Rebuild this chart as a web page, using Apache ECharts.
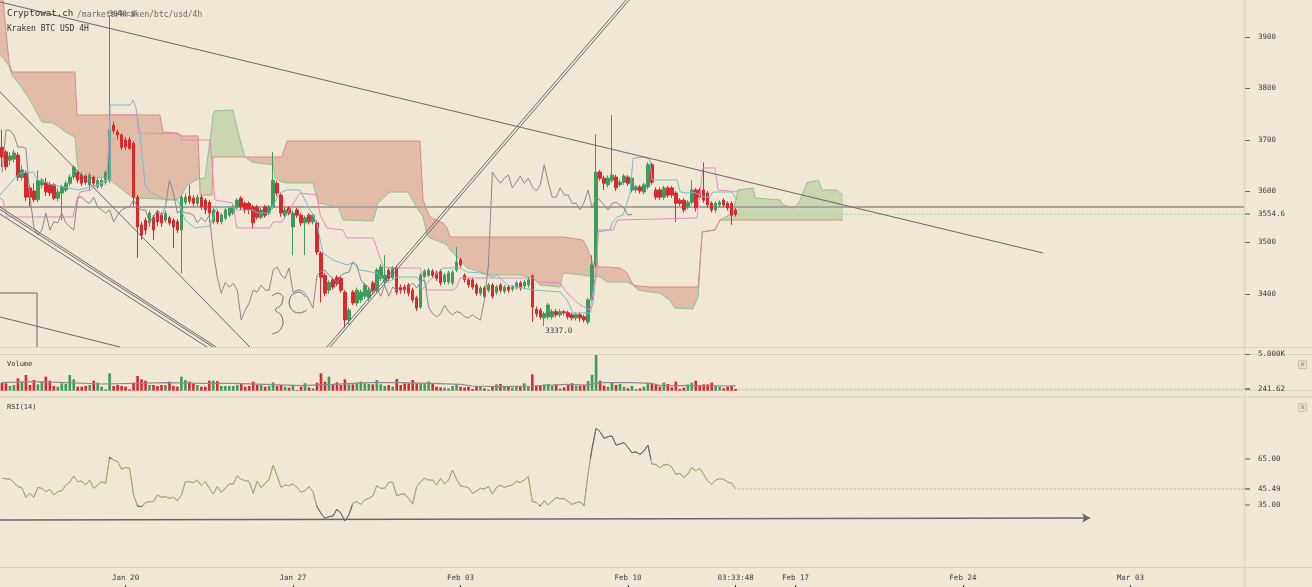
<!DOCTYPE html>
<html><head><meta charset="utf-8">
<script src="https://cdn.jsdelivr.net/npm/echarts@6/dist/echarts.min.js"></script>
<style>html,body{margin:0;padding:0;background:#f0e7d4;}#c{width:1312px;height:587px;}</style>
</head><body><div id="c"></div>
<script>
// ---------- DATA ----------
// 4H candles, Kraken BTC/USD, first candle 2019-01-14 20:00 UTC. [open, close, low, high]
const candles = [
[3685,3666,3647,3719],[3676,3647,3640,3680],[3660,3668,3650,3675],[3662,3674,3655,3680],[3670,3627,3620,3675],
[3626,3641,3620,3650],[3636,3588,3580,3640],[3606,3588,3570,3612],[3600,3583,3578,3615],[3583,3621,3578,3640],
[3612,3621,3605,3625],[3617,3598,3590,3625],[3612,3596,3590,3618],[3612,3586,3582,3615],[3586,3598,3580,3605],
[3596,3608,3543,3612],[3602,3615,3598,3620],[3615,3627,3610,3632],[3627,3646,3622,3650],[3636,3621,3615,3640],
[3631,3615,3610,3636],[3629,3617,3612,3632],[3612,3631,3600,3636],[3627,3615,3610,3630],[3608,3621,3604,3625],
[3610,3621,3605,3626],[3617,3636,3612,3640],[3621,3719,3615,3939],[3728,3718,3712,3735],[3715,3709,3700,3720],
[3709,3685,3680,3712],[3699,3686,3680,3705],[3700,3683,3680,3705],[3693,3588,3570,3697],[3588,3530,3470,3592],
[3534,3514,3505,3540],[3543,3524,3515,3548],[3538,3557,3530,3562],[3549,3524,3505,3553],[3557,3540,3532,3562],
[3553,3538,3530,3558],[3543,3557,3538,3562],[3548,3538,3533,3552],[3543,3530,3489,3547],[3540,3524,3518,3545],
[3524,3588,3440,3592],[3578,3588,3573,3595],[3590,3580,3575,3612],[3586,3576,3570,3592],[3576,3588,3570,3593],
[3588,3569,3563,3593],[3582,3563,3555,3586],[3578,3557,3540,3582],[3540,3563,3535,3567],[3559,3540,3535,3563],
[3540,3553,3535,3557],[3547,3563,3543,3567],[3553,3567,3549,3570],[3557,3569,3553,3573],[3569,3582,3565,3586],
[3586,3569,3563,3590],[3576,3563,3557,3580],[3576,3563,3555,3580],[3569,3538,3527,3573],[3569,3549,3545,3573],
[3549,3563,3545,3567],[3569,3553,3548,3573],[3557,3569,3553,3573],[3569,3621,3565,3676],[3615,3596,3590,3620],
[3592,3557,3550,3596],[3553,3563,3548,3567],[3567,3557,3553,3570],[3530,3557,3475,3562],[3563,3553,3548,3567],
[3553,3538,3532,3557],[3538,3548,3475,3552],[3553,3540,3535,3557],[3540,3553,3535,3557],[3538,3481,3475,3543],
[3479,3432,3383,3483],[3436,3401,3395,3440],[3407,3422,3400,3426],[3427,3413,3408,3432],[3432,3420,3415,3436],
[3430,3407,3402,3434],[3403,3349,3334,3407],[3349,3368,3340,3372],[3403,3382,3378,3407],[3382,3407,3376,3412],
[3388,3403,3382,3408],[3395,3417,3390,3421],[3392,3407,3386,3412],[3421,3407,3400,3425],[3407,3446,3402,3450],
[3430,3452,3425,3457],[3423,3436,3418,3475],[3446,3430,3425,3450],[3432,3450,3427,3454],[3450,3403,3398,3455],
[3413,3407,3400,3418],[3413,3407,3400,3418],[3417,3401,3395,3421],[3407,3388,3383,3412],[3392,3372,3366,3396],
[3374,3436,3370,3440],[3434,3444,3430,3448],[3436,3446,3432,3450],[3444,3436,3430,3448],[3440,3430,3425,3445],
[3444,3421,3416,3448],[3423,3436,3418,3440],[3423,3440,3418,3445],[3421,3442,3416,3446],[3446,3462,3442,3491],
[3466,3456,3451,3470],[3436,3427,3422,3440],[3427,3417,3412,3431],[3427,3413,3408,3431],[3417,3401,3396,3421],
[3401,3411,3396,3415],[3411,3395,3390,3415],[3407,3417,3402,3421],[3417,3395,3390,3421],[3403,3413,3398,3417],
[3417,3407,3402,3421],[3405,3413,3400,3417],[3413,3407,3402,3417],[3409,3413,3404,3417],[3413,3421,3408,3425],
[3421,3411,3406,3425],[3415,3423,3410,3427],[3417,3427,3412,3432],[3434,3374,3345,3438],[3370,3361,3355,3375],
[3368,3355,3350,3372],[3353,3361,3337,3365],[3355,3378,3350,3382],[3355,3365,3350,3370],[3365,3359,3354,3370],
[3359,3365,3354,3370],[3365,3363,3358,3368],[3363,3355,3350,3367],[3359,3353,3348,3363],[3353,3359,3348,3363],
[3359,3353,3345,3363],[3355,3349,3344,3359],[3345,3388,3340,3392],[3388,3456,3383,3475],[3456,3637,3450,3710],
[3637,3625,3620,3641],[3625,3615,3602,3630],[3612,3625,3607,3630],[3621,3631,3616,3748],[3627,3606,3600,3632],
[3612,3617,3608,3622],[3617,3629,3612,3633],[3627,3615,3610,3631],[3602,3625,3597,3630],[3602,3608,3597,3612],
[3608,3600,3595,3612],[3598,3612,3593,3616],[3608,3651,3603,3656],[3651,3617,3612,3655],[3602,3588,3583,3607],
[3602,3588,3583,3607],[3588,3606,3583,3610],[3606,3592,3587,3610],[3606,3592,3587,3610],[3596,3576,3540,3600],
[3582,3576,3571,3586],[3582,3563,3558,3586],[3569,3578,3565,3582],[3578,3602,3573,3621],[3602,3567,3560,3606],
[3602,3588,3583,3606],[3602,3582,3577,3655],[3596,3573,3568,3600],[3576,3563,3558,3580],[3563,3576,3558,3580],
[3573,3578,3568,3582],[3582,3573,3568,3586],[3576,3567,3562,3580],[3576,3553,3534,3580],[3563,3554.6,3550,3567]
];
const volumes = [
1091,1000,637,773,1682,1228,2137,773,1455,864,
1228,1910,1364,637,546,1000,910,2137,1546,546,
546,637,773,1364,1091,546,182,2364,637,773,
637,546,182,1091,2001,1546,1364,773,773,637,
773,773,1228,637,546,1910,1455,1228,1000,773,
546,546,1364,1364,1319,637,637,637,637,773,
1000,546,637,1228,773,773,546,637,1137,637,
773,546,409,637,91,546,1000,455,318,1091,
2364,1228,1910,773,1137,773,1546,864,864,1091,
1228,1000,910,864,1455,864,637,773,546,1592,
773,1000,1000,1455,1000,1000,1000,1228,1000,546,
455,409,318,637,910,546,455,546,227,637,
637,318,182,546,864,910,637,546,409,637,
546,1000,546,2228,637,682,864,910,637,864,
318,455,864,1000,682,682,773,1319,2137,4865,
1364,682,546,1137,773,910,546,318,637,227,
318,546,1091,1000,773,546,1091,910,455,1228,
227,409,864,1091,1364,637,864,864,1091,637,
546,318,546,682,241.62];
// volume moving average: [candle index, value]
const volumeMA = [[0,1091],[8,1228],[16,1091],[25,910],[33,1000],[41,1091],[50,1000],[58,1000],[66,864],[75,682],[83,864],[92,1091],[100,1091],[108,1000],[115,864],[118,637],[125,546],[133,637],[142,864],[147,773],[150,1091],[158,1091],[163,1000],[165,682],[175,682],[183,637],[184,682]];
const rsi = [
52.5,52.0,52.0,49.6,47.0,46.3,40.0,42.6,40.0,46.5,
45.9,43.7,45.2,41.5,43.7,44.3,48.0,49.8,53.9,50.2,
50.6,48.0,51.3,45.9,48.0,50.2,49.1,66.1,64.3,63.3,
58.3,59.6,58.9,41.5,34.3,33.9,36.5,37.2,37.2,41.5,
40.0,40.4,39.3,40.0,37.8,41.5,50.2,50.2,49.6,51.3,
47.6,50.2,45.9,42.2,47.0,43.3,45.9,48.7,48.7,53.9,
51.7,50.9,50.4,42.6,50.6,46.3,49.1,51.7,61.1,53.9,
46.5,48.0,47.6,48.7,46.3,43.3,44.3,47.0,43.7,33.9,
29.6,26.3,27.4,27.8,32.2,29.6,24.6,28.5,36.1,37.2,
35.4,38.3,39.3,40.9,47.6,45.9,45.9,49.8,49.8,41.1,
42.0,42.2,39.3,35.6,47.0,50.2,52.4,51.3,51.3,48.0,
52.4,48.7,51.3,57.8,51.7,47.4,47.0,46.3,42.6,44.0,
45.9,45.4,47.0,42.2,46.3,48.0,46.5,47.4,48.0,50.6,
49.6,51.3,53.5,37.2,36.7,34.3,37.8,35.0,37.6,39.8,
39.1,39.1,37.2,35.4,36.5,37.0,34.8,55.7,72.0,85.0,
82.8,78.5,79.6,80.0,74.1,74.8,75.7,72.6,69.1,69.6,
68.0,70.2,74.1,61.7,61.5,59.3,61.1,61.5,59.6,55.0,
55.7,53.0,55.2,59.3,57.2,58.9,55.0,50.6,48.5,51.3,
52.2,51.7,50.0,49.1,45.49];
// Ichimoku lines, vertices: [candle index, price]
const tenkan = [[-0.5,3592.2],[1.26,3607.8],[2.76,3621.4],[4.5,3635.0],[7.8,3637.0],[9.0,3621.4],[12.8,3611.7],[15.3,3607.8],[19.1,3602.0],[21.3,3605.8],[23.8,3611.7],[26.3,3621.4],[27.1,3621.4],[27.1,3767.4],[32.1,3767.4],[32.9,3777.1],[33.6,3761.6],[34.6,3712.9],[35.9,3611.7],[37.1,3598.0],[40.9,3582.5],[43.9,3582.5],[44.6,3572.7],[45.9,3543.5],[48.4,3528.0],[52.2,3531.9],[53.9,3568.8],[57.9,3568.8],[58.9,3563.0],[63.0,3563.0],[64.0,3557.2],[67.2,3557.2],[68.0,3572.7],[69.7,3596.1],[71.5,3602.0],[74.7,3602.0],[77.3,3563.0],[79.0,3537.7],[79.8,3504.6],[80.5,3479.3],[83.0,3465.7],[86.5,3455.9],[88.0,3459.8],[89.8,3446.2],[94.1,3440.4],[96.6,3420.9],[99.1,3432.6],[104.1,3432.6],[104.8,3422.8],[105.3,3407.3],[107.3,3426.7],[110.6,3450.1],[114.9,3450.1],[116.6,3442.3],[119.9,3440.4],[123.2,3432.6],[124.2,3436.5],[126.7,3417.0],[129.2,3413.1],[133.2,3407.3],[140.0,3403.4],[141.7,3387.8],[143.2,3362.5],[147.5,3362.5],[148.2,3382.0],[149.2,3450.1],[149.5,3520.2],[152.5,3524.1],[153.0,3537.7],[154.3,3549.4],[155.8,3553.3],[157.5,3596.1],[158.3,3664.2],[161.3,3666.2],[162.5,3660.3],[163.0,3621.4],[169.3,3621.4],[170.1,3598.0],[171.8,3596.1],[173.3,3598.0],[176.3,3588.3],[177.6,3588.3],[178.3,3598.0],[183.1,3598.0],[184.3,3582.5]];
const kijun = [[-0.5,3586.4],[0.25,3582.5],[1.26,3549.4],[17.8,3549.4],[18.8,3582.5],[19.6,3598.0],[22.1,3602.0],[26.3,3621.4],[27.1,3748.0],[33.9,3748.0],[34.1,3712.9],[44.6,3711.0],[45.1,3699.3],[52.2,3699.3],[53.4,3582.5],[57.9,3576.6],[58.9,3528.0],[67.2,3528.0],[68.0,3539.6],[70.2,3539.6],[74.7,3596.1],[79.0,3592.2],[79.8,3553.3],[81.5,3528.0],[85.5,3524.1],[86.5,3508.5],[93.1,3508.5],[95.6,3452.1],[99.1,3450.1],[104.8,3450.1],[105.6,3432.6],[106.6,3407.3],[113.1,3407.3],[114.1,3413.1],[114.9,3430.6],[133.2,3430.6],[134.2,3422.8],[140.0,3420.9],[141.7,3401.4],[145.0,3378.1],[147.5,3368.3],[149.2,3452.1],[149.5,3524.1],[153.3,3524.1],[154.3,3543.5],[174.3,3547.4],[175.8,3644.8],[178.8,3644.8],[179.6,3602.0],[184.6,3598.0]];
const cloudIdx = [-0.5,0.25,1.76,2.5,4.5,7.0,10.0,12.8,16.3,18.3,18.8,19.6,25.3,27.1,32.9,39.6,40.4,43.9,45.1,46.4,49.2,49.7,50.9,52.7,52.9,53.4,57.9,59.2,60.9,62.7,68.0,68.5,70.2,71.5,78.0,79.3,84.3,85.5,93.1,94.3,97.3,101.8,104.1,104.8,105.6,106.6,107.3,110.6,111.6,112.4,114.9,116.6,122.4,129.9,133.2,134.9,140.0,140.7,145.7,146.7,148.2,150.0,151.7,155.0,156.8,158.3,159.5,162.5,165.0,167.5,168.8,173.3,174.6,175.6,178.8,180.1,183.3,184.6,188.4,188.9,195.1,195.9,198.9,200.2,201.9,204.7,205.7,209.4,210.9];
const senkouA = [3864.7,3858.9,3843.3,3825.8,3806.3,3777.1,3734.3,3732.4,3712.9,3705.1,3660.3,3621.4,3627.2,3621.4,3586.4,3584.4,3584.4,3582.5,3592.2,3611.7,3623.3,3625.3,3625.3,3728.5,3748.0,3755.7,3757.7,3714.8,3666.2,3656.4,3650.6,3625.3,3617.5,3615.6,3615.6,3576.6,3568.8,3543.5,3541.6,3576.6,3598.0,3598.0,3566.9,3559.1,3549.4,3514.4,3508.5,3498.8,3494.9,3485.1,3465.7,3450.1,3436.5,3436.5,3430.6,3417.0,3413.1,3440.4,3436.5,3434.5,3434.5,3432.6,3422.8,3422.8,3422.8,3417.0,3407.3,3403.4,3401.4,3387.8,3372.2,3370.3,3393.6,3520.2,3524.1,3543.5,3557.2,3602.0,3605.8,3586.4,3582.5,3572.7,3566.9,3582.5,3615.6,3621.4,3602.0,3602.0,3592.2];
const senkouB = [4049.5,3971.8,3851.1,3831.6,3831.6,3831.6,3831.6,3831.6,3831.6,3831.6,
3748.0,3748.0,3748.0,3748.0,3748.0,3748.0,3714.8,3712.9,3707.1,3707.1,
3707.1,3592.2,3592.2,3592.2,3666.2,3666.2,3666.2,3666.2,3666.2,3666.2,
3666.2,3666.2,3666.2,3697.3,3697.3,3697.3,3697.3,3697.3,3697.3,3697.3,
3697.3,3697.3,3697.3,3697.3,3582.5,3563.0,3549.4,3537.7,3528.0,3510.4,
3510.4,3510.4,3510.4,3510.4,3510.4,3510.4,3510.4,3510.4,3504.6,3491.0,
3459.8,3452.1,3452.1,3450.1,3440.4,3417.0,3415.1,3413.1,3413.1,3413.1,
3413.1,3413.1,3413.1,3520.2,3524.1,3543.5,3543.5,3543.5,3543.5,3543.5,
3543.5,3543.5,3543.5,3543.5,3543.5,3543.5,3543.5,3543.5,3543.5];
const chikouShift = 26;
// drawn trend lines: [x1 index, price1, x2 index, price2]
const trendLines = [
[-0.5,3967.9,261.1,3479.3],
[81.5,3296.3,156.5,3971.8],[82.3,3296.3,157.3,3971.8],
[-0.5,3568.8,53.7,3296.3],[-0.5,3564.0,52.9,3296.3],[-0.5,3555.2,51.4,3296.3],
[-0.5,3792.7,62.2,3296.3],[-0.5,3354.7,29.6,3296.3],
[-0.5,3401.4,8.78,3401.4],[8.78,3401.4,8.78,3296.3]
];
// hand-drawn strokes on the chart: [candle index, price]
const drawings = [
[[67.7,3395.6],[69.2,3401.4],[70.5,3393.6],[70.0,3378.1],[68.5,3368.3],[70.0,3358.6],[70.5,3343.0],[69.5,3327.4],[67.7,3321.6]],
[[76.2,3393.6],[74.5,3403.4],[72.7,3397.5],[72.0,3382.0],[73.0,3366.4],[74.7,3362.5],[76.5,3368.3]]
];
const supportLevel = 3568.8;
const lastPrice = 3554.6, lastVolume = 241.62, lastRsi = 45.49;
const rsiTrend = [[-0.5,25.2],[272.9,26.5]];
const highMark = {idx:27, price:3939, text:'3940.0'};
const lowMark = {idx:136, price:3337, text:'3337.0'};
const priceTicks = [3400,3500,3600,3700,3800,3900];
const volumeTicks = [5000];
const rsiTicks = [65,35];
const xTickIndex = [31,73,115,157,184,199,241,283];
const xTickText = ['Jan 20','Jan 27','Feb 03','Feb 10','03:33:48','Feb 17','Feb 24','Mar 03'];

// ---------- BUILD ----------
const N = 312;
const startMs = Date.UTC(2019,0,14,20);
const categories = Array.from({length:N},(_,i)=>new Date(startMs+i*4*3600e3).toISOString().slice(0,16).replace('T',' '));
const labelMap = new Map(xTickIndex.map((v,i)=>[v,xTickText[i]]));
const FONT = 'DejaVu Sans Mono';
const UP = '#3d9b5c', DOWN = '#d7292e';
const TXT = '#3e3a47';
const END = N - 0.5;

const cloudRows = cloudIdx.map((x,i)=>[x, senkouA[i], senkouB[i]]);
const GREENF = 'rgba(120,180,100,0.33)', REDF = 'rgba(200,110,80,0.35)';
function cloudRegions(){
  const regions = []; let cur = {a:[], b:[], s:0};
  for (let i=0;i<cloudRows.length;i++){
    const [x,a,b] = cloudRows[i]; const d = a-b; const s = d>0?1:(d<0?-1:0);
    if (i>0 && s!==0 && cur.s!==0 && s!==cur.s){
      const [px,pa,pb] = cloudRows[i-1]; const pd = pa-pb;
      let c;
      if (pd===0) { c=[px,pa]; }
      else { const t = pd/(pd-d); c=[px+t*(x-px), pa+t*(a-pa)]; cur.a.push(c); cur.b.push(c); }
      regions.push(cur);
      cur = {a:[c], b:[c], s:s};
    }
    cur.a.push([x,a]); cur.b.push([x,b]);
    if (cur.s===0 && s!==0) cur.s = s;
  }
  regions.push(cur);
  return regions;
}
const regions = cloudRegions();
function renderCloud(params, api){
  return {type:'group', children: regions.map(r=>({type:'polygon', silent:true,
    shape:{points: r.a.concat(r.b.slice().reverse()).map(p=>api.coord(p))},
    style:{fill: r.s>0?GREENF:REDF}}))};
}

const closes = candles.map(c=>c[1]);
const chikou = closes.slice(chikouShift);
const volData = volumes.map((v,i)=>({value:v, itemStyle:{color: candles[i][1]>=candles[i][0]?UP:DOWN}}));

const series = [];
series.push({type:'custom', name:'cloud', xAxisIndex:1, yAxisIndex:0, renderItem:renderCloud, data:[cloudRows[0]], encode:{x:0,y:[1,2]}, clip:true, z:1, silent:true});
series.push({type:'line', xAxisIndex:1, yAxisIndex:0, data:cloudIdx.map((x,i)=>[x,senkouA[i]]), showSymbol:false, lineStyle:{color:'#8dc48d',width:1}, z:2, silent:true});
series.push({type:'line', xAxisIndex:1, yAxisIndex:0, data:cloudIdx.map((x,i)=>[x,senkouB[i]]), showSymbol:false, lineStyle:{color:'#dc8b7b',width:1}, z:2, silent:true});
series.push({type:'line', xAxisIndex:1, yAxisIndex:0, data:[[-0.5,supportLevel],[END,supportLevel]], showSymbol:false, lineStyle:{color:'#aaa39d',width:2}, z:2, silent:true});
series.push({type:'line', xAxisIndex:1, yAxisIndex:0, data:[[184.5,lastPrice],[END,lastPrice]], showSymbol:false, lineStyle:{color:'#a9cfa6',width:1,type:[2,2]}, z:2, silent:true});
series.push({type:'candlestick', xAxisIndex:0, yAxisIndex:0, data:candles, barWidth:3,
  itemStyle:{color:UP, color0:DOWN, borderColor:UP, borderColor0:DOWN, borderWidth:1}, z:4, silent:true,
  markPoint:{symbol:'circle', symbolSize:0, silent:true, animation:false,
    label:{show:true, position:'right', distance:1, fontFamily:FONT, fontSize:7.5, color:TXT},
    data:[{coord:[lowMark.idx,lowMark.price], value:lowMark.text, label:{formatter:lowMark.text, offset:[0,5]}},
          {coord:[highMark.idx,highMark.price], value:highMark.text, label:{formatter:highMark.text, offset:[-2,-3]}}]}});
series.push({type:'line', xAxisIndex:1, yAxisIndex:0, data:tenkan, showSymbol:false, lineStyle:{color:'#76bccd',width:1}, z:5, silent:true});
series.push({type:'line', xAxisIndex:1, yAxisIndex:0, data:kijun, showSymbol:false, lineStyle:{color:'#e389c5',width:1}, z:5, silent:true});
series.push({type:'line', xAxisIndex:0, yAxisIndex:0, data:chikou, showSymbol:false, lineStyle:{color:'#8b8592',width:1}, z:5, silent:true});
trendLines.forEach(t=>series.push({type:'line', xAxisIndex:1, yAxisIndex:0, data:[[t[0],t[1]],[t[2],t[3]]], showSymbol:false, lineStyle:{color:'#6a6472',width:1}, z:6, silent:true}));
drawings.forEach(d=>series.push({type:'line', xAxisIndex:1, yAxisIndex:0, data:d, showSymbol:false, smooth:0.3, lineStyle:{color:'#6f6976',width:1}, z:6, silent:true}));
// volume
series.push({type:'bar', xAxisIndex:2, yAxisIndex:1, data:volData, barWidth:2.6, z:3, silent:true});
series.push({type:'line', xAxisIndex:3, yAxisIndex:1, data:volumeMA, showSymbol:false, lineStyle:{color:'#8f8a92',width:1.2}, z:4, silent:true});
series.push({type:'line', xAxisIndex:3, yAxisIndex:1, data:[[184.5,lastVolume],[END,lastVolume]], showSymbol:false, lineStyle:{color:'#a6cba3',width:1,type:[2,2]}, z:4, silent:true});
// rsi
const rsiIndex = series.length;
series.push({type:'line', xAxisIndex:4, yAxisIndex:2, data:rsi, showSymbol:false, lineStyle:{width:1}, z:4, silent:true});
series.push({type:'line', xAxisIndex:5, yAxisIndex:2, data:[[184.5,lastRsi],[END,lastRsi]], showSymbol:false, lineStyle:{color:'#c4bcad',width:1.5,type:[2,2]}, z:3, silent:true,
  markLine:{silent:true, animation:false, symbol:['none','arrow'], symbolSize:[7,8], label:{show:false},
    lineStyle:{color:'#6a6472',width:1.3,type:'solid'},
    data:[[{coord:rsiTrend[0]},{coord:rsiTrend[1]}]]}});

const axisLbl = {fontFamily:FONT, fontSize:7.5, color:TXT};
const graphics = [
  {type:'line',z:0,silent:true,shape:{x1:0,y1:347.5,x2:1312,y2:347.5},style:{stroke:'#dbd1bd',lineWidth:1}},
  {type:'line',z:0,silent:true,shape:{x1:0,y1:354.5,x2:1312,y2:354.5},style:{stroke:'#dbd1bd',lineWidth:1}},
  {type:'line',z:0,silent:true,shape:{x1:0,y1:390.5,x2:1312,y2:390.5},style:{stroke:'#dbd1bd',lineWidth:1}},
  {type:'line',z:0,silent:true,shape:{x1:0,y1:397,x2:1312,y2:397},style:{stroke:'#e3dac8',lineWidth:2}},
  {type:'line',z:0,silent:true,shape:{x1:0,y1:567.5,x2:1312,y2:567.5},style:{stroke:'#dbd1bd',lineWidth:1}},
  {type:'line',z:0,silent:true,shape:{x1:1244.5,y1:0,x2:1244.5,y2:587},style:{stroke:'#e3dac7',lineWidth:2}},
  {type:'text',z:10,silent:true,x:7,y:14,style:{text:'Cryptowat.ch',fontFamily:FONT,fontSize:9.2,fill:'#36333f',verticalAlign:'middle'}},
  {type:'text',z:10,silent:true,x:77,y:15,style:{text:'/markets/kraken/btc/usd/4h',fontFamily:FONT,fontSize:8,fill:'#6c6773',verticalAlign:'middle'}},
  {type:'text',z:10,silent:true,x:7,y:29,style:{text:'Kraken BTC USD 4H',fontFamily:FONT,fontSize:8,fill:'#36333f',verticalAlign:'middle'}},
  {type:'text',z:10,silent:true,x:7,y:364,style:{text:'Volume',fontFamily:FONT,fontSize:7,fill:'#36333f',verticalAlign:'middle'}},
  {type:'text',z:10,silent:true,x:7,y:407,style:{text:'RSI(14)',fontFamily:FONT,fontSize:7,fill:'#36333f',verticalAlign:'middle'}},
  {type:'rect',z:10,silent:true,shape:{x:1298.5,y:360.5,width:8,height:8},style:{fill:'#e8dfcc',stroke:'#cbc2b2',lineWidth:1}},
  {type:'text',z:11,silent:true,x:1302.5,y:364.5,style:{text:'x',fontFamily:FONT,fontSize:7,fill:'#7a7480',align:'center',verticalAlign:'middle'}},
  {type:'rect',z:10,silent:true,shape:{x:1298.5,y:403.5,width:8,height:8},style:{fill:'#e8dfcc',stroke:'#cbc2b2',lineWidth:1}},
  {type:'text',z:11,silent:true,x:1302.5,y:407.5,style:{text:'x',fontFamily:FONT,fontSize:7,fill:'#7a7480',align:'center',verticalAlign:'middle'}}
];
const option = {
  backgroundColor:'#f0e7d4',
  animation:false,
  grid:[{left:0,right:68,top:0,height:347},{left:0,right:68,top:354,height:36.67},{left:0,right:68,top:398,height:169}],
  xAxis:[
    {type:'category',gridIndex:0,data:categories,show:false},
    {type:'value',gridIndex:0,min:-0.5,max:END,show:false},
    {type:'category',gridIndex:1,data:categories,show:false},
    {type:'value',gridIndex:1,min:-0.5,max:END,show:false},
    {type:'category',gridIndex:2,position:'bottom',data:categories,axisLine:{show:false},axisTick:{show:false},splitLine:{show:false},
      axisLabel:Object.assign({interval:(i)=>labelMap.has(i), formatter:(v,i)=>labelMap.get(i)||'', margin:7},axisLbl)},
    {type:'value',gridIndex:2,min:-0.5,max:END,show:false},
    {type:'category',gridIndex:2,position:'bottom',data:categories,offset:18,axisLine:{show:false},axisLabel:{show:false},splitLine:{show:false},
      axisTick:{show:true,alignWithLabel:true,length:3,interval:(i)=>labelMap.has(i),lineStyle:{color:'#4a4650'}}}
  ],
  yAxis:[
    {type:'value',gridIndex:0,position:'right',min:3296.3,max:3971.8,splitLine:{show:false},axisLine:{show:false},axisTick:{show:false},
      axisLabel:Object.assign({customValues:priceTicks.concat([lastPrice]),margin:14,formatter:v=>v===lastPrice?'3554.6':String(v)},axisLbl)},
    {type:'value',gridIndex:1,position:'right',min:0,max:5000,splitLine:{show:false},axisLine:{show:false},axisTick:{show:false},
      axisLabel:Object.assign({customValues:[5000,lastVolume],margin:14,formatter:v=>v===5000?'5.000K':'241.62'},axisLbl)},
    {type:'value',gridIndex:2,position:'right',min:-5.45,max:104.8,splitLine:{show:false},axisLine:{show:false},axisTick:{show:false},
      axisLabel:Object.assign({customValues:rsiTicks.concat([lastRsi]),margin:14,formatter:v=>v.toFixed(2)},axisLbl)}
  ],
  visualMap:[{type:'piecewise',show:false,seriesIndex:rsiIndex,dimension:1,
    pieces:[{lt:35,color:'#6c6579'},{gte:35,lte:65,color:'#a3ac70'},{gt:65,color:'#6c6579'}]}],
  graphic:graphics,
  series
};
const chart = echarts.init(document.getElementById('c'));
chart.setOption(option);
// axis tick marks, positioned through the axes' own scales
const tickSpecs = [
  ...priceTicks.map(v=>({ax:0,v,c:'#6d6672',w:1})),
  {ax:0,v:lastPrice,c:'#7fb37f',w:2},
  ...volumeTicks.map(v=>({ax:1,v,c:'#6d6672',w:1})),
  {ax:1,v:lastVolume,c:'#58a060',w:2},
  ...rsiTicks.map(v=>({ax:2,v,c:'#aaa39b',w:2})),
  {ax:2,v:lastRsi,c:'#8f8a8a',w:2}
];
const tickGraphics = tickSpecs.map(t=>{
  const y = Math.round(chart.convertToPixel({yAxisIndex:t.ax}, t.v)) + (t.w===1?0.5:0);
  return {type:'line',z:5,silent:true,shape:{x1:1245,y1:y,x2:1250,y2:y},style:{stroke:t.c,lineWidth:t.w}};
});
chart.setOption({graphic: graphics.concat(tickGraphics)});
</script></body></html>
